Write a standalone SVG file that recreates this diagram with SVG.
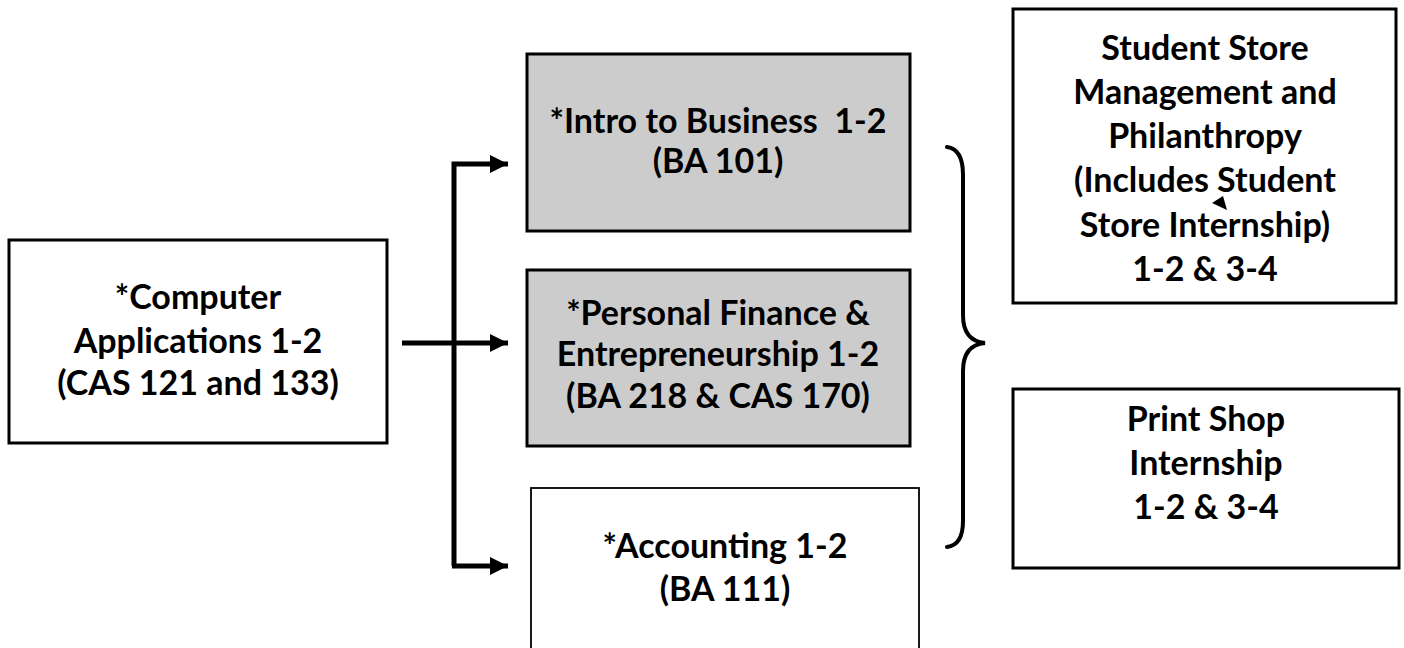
<svg xmlns="http://www.w3.org/2000/svg" width="1404" height="648" viewBox="0 0 1404 648">
<style>
  .box { fill: #ffffff; stroke: #000000; stroke-width: 3; }
  .gray { fill: #cccccc; stroke: #000000; stroke-width: 3; }
  .thin { fill: #ffffff; stroke: #000000; stroke-width: 1.8; }
  .t { font-family: Lato, "Liberation Sans", sans-serif; font-weight: bold; font-size: 34px; fill: #000000; text-anchor: middle; }
  .line { fill: none; stroke: #000000; stroke-width: 5; }
  .brace { fill: none; stroke: #000000; stroke-width: 4; stroke-linecap: round; }
</style>
<defs>
  <marker id="ah" markerUnits="userSpaceOnUse" markerWidth="18" markerHeight="18" viewBox="0 0 16 16" refX="16" refY="8" orient="auto">
    <path d="M0,0 L16,8 L0,16 Z" fill="#000000"/>
  </marker>
</defs>
<rect width="1404" height="648" fill="#ffffff"/>

<g id="computer-applications">
  <rect class="box" x="9" y="240" width="378" height="203"/>
  <text class="t" x="198" y="309">*Computer</text>
  <text class="t" x="198" y="353">Applications 1-2</text>
  <text class="t" x="198" y="395">(CAS 121 and 133)</text>
</g>

<g id="intro-business">
  <rect class="gray" x="527" y="54" width="383" height="177"/>
  <text class="t" x="718" y="133" xml:space="preserve">*Intro to Business  1-2</text>
  <text class="t" x="718" y="173">(BA 101)</text>
</g>

<g id="personal-finance">
  <rect class="gray" x="527" y="270" width="383" height="176"/>
  <text class="t" x="718" y="325">*Personal Finance &amp;</text>
  <text class="t" x="718" y="366">Entrepreneurship 1-2</text>
  <text class="t" x="718" y="408">(BA 218 &amp; CAS 170)</text>
</g>

<g id="accounting">
  <rect class="thin" x="531" y="488" width="388" height="175"/>
  <text class="t" x="725" y="558">*Accounting 1-2</text>
  <text class="t" x="725" y="601">(BA 111)</text>
</g>

<g id="student-store">
  <rect class="box" x="1013" y="9" width="383" height="294"/>
  <text class="t" x="1205" y="60">Student Store</text>
  <text class="t" x="1205" y="104">Management and</text>
  <text class="t" x="1205" y="148">Philanthropy</text>
  <text class="t" x="1205" y="192">(Includes Student</text>
  <text class="t" x="1205" y="237">Store Internship)</text>
  <text class="t" x="1205" y="281">1-2 &amp; 3-4</text>
  <polygon points="1212,203 1223,196 1227,210" fill="#000000"/>
</g>

<g id="print-shop">
  <rect class="box" x="1013" y="389" width="386" height="179"/>
  <text class="t" x="1206" y="431">Print Shop</text>
  <text class="t" x="1206" y="475">Internship</text>
  <text class="t" x="1206" y="519">1-2 &amp; 3-4</text>
</g>

<g id="connectors">
  <polyline class="line" points="454,566 454,164 508,164" marker-end="url(#ah)"/>
  <line class="line" x1="452" y1="566" x2="508" y2="566" marker-end="url(#ah)"/>
  <line class="line" x1="402" y1="343" x2="508" y2="343" marker-end="url(#ah)"/>
  <path class="brace" d="M947,147 Q963,149 963,175 L963,315 Q963,341 985,343 Q963,345 963,371 L963,521 Q963,545 947,547"/>
</g>
</svg>
